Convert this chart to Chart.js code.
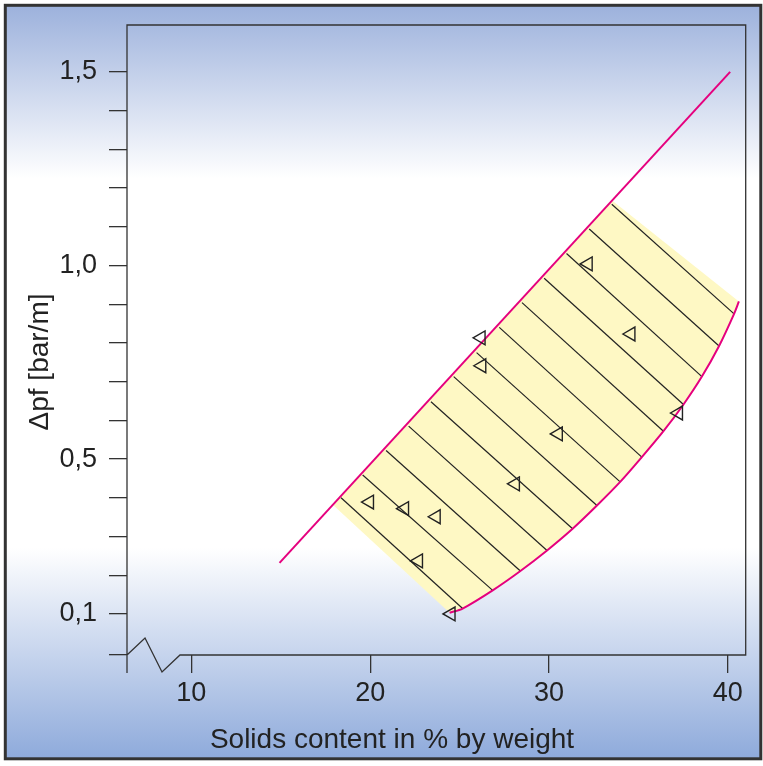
<!DOCTYPE html>
<html>
<head>
<meta charset="utf-8">
<script src="https://cdn.jsdelivr.net/npm/chart.js@4.4.0/dist/chart.umd.min.js"></script>
<style>
  html, body { margin: 0; padding: 0; background: #fff; }
  #wrap { position: relative; width: 763px; height: 766px; }
</style>
</head>
<body>
<div id="wrap"><canvas id="chart"></canvas></div>
<script>
// axis range and ticks
const xMin = 6.4, xMax = 41.0;
const yMin = -0.006, yMax = 1.621;
const xTicks = [10, 20, 30, 40];
const yTicks = [yMin, 0.1, 0.2, 0.3, 0.4, 0.5, 0.6, 0.7, 0.8, 0.9, 1.0, 1.1, 1.2, 1.3, 1.4, 1.5];
const yLabelValues = [0.1, 0.5, 1.0, 1.5];
const yLabelText = ['0,1', '0,5', '1,0', '1,5'];

// measured points (open triangles)
const pointX = [19.96, 21.92, 23.69, 22.70, 24.52, 26.20, 26.24, 28.12, 30.52, 32.19, 34.58, 37.24];
const pointY = [0.389, 0.372, 0.351, 0.237, 0.100, 0.813, 0.741, 0.436, 0.565, 1.004, 0.823, 0.619];

// upper boundary (straight line)
const upperX = [14.93, 40.13];
const upperY = [0.232, 1.500];

// lower boundary (curve)
const lowerX = [24.44, 25.17, 26.85, 28.40, 29.89, 31.32, 32.68, 33.98, 35.19, 36.40, 37.52, 38.55, 39.51, 40.35, 40.62];
const lowerY = [0.103, 0.114, 0.161, 0.211, 0.264, 0.320, 0.380, 0.441, 0.505, 0.572, 0.641, 0.713, 0.792, 0.875, 0.907];

// band ends on the upper line
const bandStartX = 17.91, bandStartY = 0.382;
const bandEndX = 33.53, bandEndY = 1.168;

// hatch segments across the band
const hatchX1 = [18.37, 19.58, 20.89, 22.15, 23.40, 24.67, 25.95, 27.22, 28.49, 29.73, 30.98, 32.25, 33.51];
const hatchY1 = [0.400, 0.459, 0.522, 0.585, 0.648, 0.713, 0.775, 0.840, 0.904, 0.967, 1.031, 1.094, 1.158];
const hatchX2 = [25.17, 26.85, 28.40, 29.89, 31.32, 32.68, 33.98, 35.19, 36.40, 37.52, 38.55, 39.51, 40.35];
const hatchY2 = [0.114, 0.161, 0.211, 0.264, 0.320, 0.380, 0.441, 0.505, 0.572, 0.641, 0.713, 0.792, 0.875];

const FONT = "'Liberation Sans', Arial, sans-serif";
const INK = '#222';
const MAGENTA = '#e5007e';

const xy = (xs, ys) => xs.map((x, i) => ({ x: x, y: ys[i] }));

// band polygon: start corner, along lower curve, end corner, back to start
const bandPoly = [{ x: bandStartX, y: bandStartY }]
    .concat(xy(lowerX, lowerY))
    .concat([{ x: bandEndX, y: bandEndY }, { x: bandStartX, y: bandStartY }]);

const datasets = [];

datasets.push({
    data: xy(pointX, pointY),
    showLine: false,
    pointStyle: 'triangle',
    rotation: -90,
    pointRadius: 8,
    borderColor: INK,
    borderWidth: 1.4,
    backgroundColor: 'rgba(0,0,0,0)',
    order: 0
});

datasets.push({
    data: xy(upperX, upperY),
    showLine: true,
    borderColor: MAGENTA,
    borderWidth: 2,
    pointRadius: 0,
    order: 1
});

datasets.push({
    data: xy(lowerX, lowerY),
    showLine: true,
    borderColor: MAGENTA,
    borderWidth: 2,
    pointRadius: 0,
    tension: 0.3,
    order: 1
});

for (let i = 0; i < hatchX1.length; i++) {
    datasets.push({
        data: [{ x: hatchX1[i], y: hatchY1[i] }, { x: hatchX2[i], y: hatchY2[i] }],
        showLine: true,
        borderColor: INK,
        borderWidth: 1.2,
        pointRadius: 0,
        order: 2
    });
}

datasets.push({
    data: bandPoly,
    showLine: true,
    fill: 'shape',
    backgroundColor: '#fef8c4',
    borderWidth: 0,
    borderColor: 'rgba(0,0,0,0)',
    pointRadius: 0,
    order: 3
});

// background, frame, axis break and titles
const framePlugin = {
    id: 'frame',
    beforeDraw(chart) {
        const ctx = chart.ctx;
        ctx.save();
        const g = ctx.createLinearGradient(0, 5, 0, 759);
        g.addColorStop(0, '#9cb1dc');
        g.addColorStop(0.23, '#ffffff');
        g.addColorStop(0.72, '#ffffff');
        g.addColorStop(1, '#8eaadb');
        ctx.fillStyle = g;
        ctx.fillRect(5, 5, 756, 754);
        ctx.restore();
    },
    afterDraw(chart) {
        const ctx = chart.ctx;
        const a = chart.chartArea;
        ctx.save();
        ctx.strokeStyle = '#333';
        ctx.lineWidth = 1.3;
        ctx.beginPath();
        // left axis, running past the bottom
        ctx.moveTo(a.left, a.bottom + 18);
        ctx.lineTo(a.left, a.top);
        ctx.lineTo(a.right, a.top);
        ctx.lineTo(a.right, a.bottom);
        ctx.lineTo(a.left + 53, a.bottom);
        // axis break
        ctx.lineTo(a.left + 35, a.bottom + 17);
        ctx.lineTo(a.left + 18, a.bottom - 17);
        ctx.lineTo(a.left, a.bottom);
        ctx.stroke();

        // outer border
        ctx.lineWidth = 3;
        ctx.strokeRect(5.3, 5.3, 755.5, 753.5);

        // axis titles
        ctx.fillStyle = INK;
        ctx.font = '28px ' + FONT;
        ctx.textAlign = 'center';
        ctx.textBaseline = 'alphabetic';
        ctx.fillText('Solids content in % by weight', 392, 748);
        ctx.translate(48, 362);
        ctx.rotate(-Math.PI / 2);
        ctx.fillText('\u0394pf [bar/m]', 0, 0);
        ctx.restore();
    }
};

Chart.defaults.font.family = FONT;
Chart.defaults.font.size = 27;
Chart.defaults.color = INK;

new Chart(document.getElementById('chart'), {
    type: 'scatter',
    data: { datasets: datasets },
    options: {
        responsive: true,
        maintainAspectRatio: false,
        animation: false,
        layout: { padding: { left: 0, top: 25, right: 17.3, bottom: 0 } },
        plugins: {
            legend: { display: false },
            tooltip: { enabled: false }
        },
        scales: {
            x: {
                type: 'linear',
                min: xMin,
                max: xMax,
                afterBuildTicks: (axis) => { axis.ticks = xTicks.map(v => ({ value: v })); },
                afterFit: (scale) => {
                    scale.height = 111;
                    scale.paddingLeft = 0;
                    scale.paddingRight = 0;
                },
                border: { display: false },
                grid: { drawOnChartArea: false, drawTicks: true, tickLength: 18, color: '#333', lineWidth: 1.3 },
                ticks: { padding: 4, autoSkip: false, maxRotation: 0, color: INK }
            },
            y: {
                type: 'linear',
                min: yMin,
                max: yMax,
                afterBuildTicks: (axis) => { axis.ticks = yTicks.map(v => ({ value: v })); },
                afterFit: (scale) => {
                    scale.width = 127;
                    scale.paddingTop = 0;
                    scale.paddingBottom = 0;
                },
                border: { display: false },
                grid: { drawOnChartArea: false, drawTicks: true, tickLength: 18, color: '#333', lineWidth: 1.3 },
                ticks: {
                    padding: 12,
                    autoSkip: false,
                    color: INK,
                    callback: (value) => {
                        const k = yLabelValues.findIndex(v => Math.abs(v - value) < 1e-6);
                        return k >= 0 ? yLabelText[k] : '';
                    }
                }
            }
        }
    },
    plugins: [framePlugin]
});
</script>
</body>
</html>
